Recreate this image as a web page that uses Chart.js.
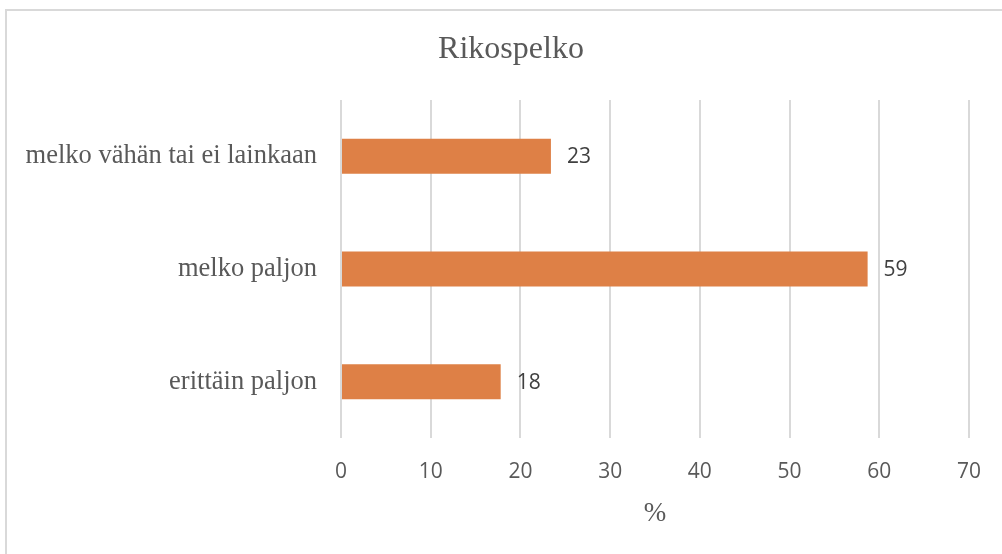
<!DOCTYPE html>
<html>
<head>
<meta charset="utf-8">
<script src="https://cdn.jsdelivr.net/npm/chart.js@4.4.1/dist/chart.umd.min.js"></script>
<style>
  html, body { margin: 0; padding: 0; background: #fff; overflow: hidden; }
  #wrap { position: relative; width: 1002px; height: 554px; }
  #frame { position: absolute; left: 5px; top: 9px; width: 1020px; height: 600px; border: 2px solid #d9d9d9; box-sizing: border-box; }
  canvas { position: absolute; left: 0; top: 0; }
</style>
</head>
<body>
<div id="wrap">
  <div id="frame"></div>
  <canvas id="c" width="1002" height="554"></canvas>
</div>
<script>
const chartTitle = 'Rikospelko';
const categories = ['melko vähän tai ei lainkaan', 'melko paljon', 'erittäin paljon'];
const values = [23.4, 58.7, 17.8];
const xTicks = [0, 10, 20, 30, 40, 50, 60, 70];
const xAxisTitle = '%';

const serif = '"Liberation Serif", "Times New Roman", serif';
const sans = '"Open Sans", "Liberation Sans", sans-serif';

const valueLabels = {
  id: 'valueLabels',
  afterDatasetsDraw(chart) {
    const ctx = chart.ctx;
    const meta = chart.getDatasetMeta(0);
    ctx.save();
    ctx.font = '21px ' + sans;
    ctx.fillStyle = '#404040';
    ctx.textAlign = 'left';
    ctx.textBaseline = 'middle';
    meta.data.forEach((bar, i) => {
      ctx.fillText(String(Math.round(values[i])), bar.x + 16, bar.y + 1);
    });
    ctx.restore();
  }
};

const chartTitleDraw = {
  id: 'chartTitleDraw',
  afterDraw(chart) {
    const ctx = chart.ctx;
    ctx.save();
    ctx.font = '32px ' + serif;
    ctx.fillStyle = '#595959';
    ctx.textAlign = 'center';
    ctx.textBaseline = 'middle';
    ctx.fillText(chartTitle, 511, 50);
    ctx.restore();
  }
};

new Chart(document.getElementById('c'), {
  type: 'bar',
  data: {
    labels: categories,
    datasets: [{
      data: values,
      backgroundColor: '#DE8046',
      borderWidth: 0,
      categoryPercentage: 1,
      barPercentage: 0.31
    }]
  },
  options: {
    indexAxis: 'y',
    responsive: false,
    animation: false,
    layout: { padding: { left: 0, right: 28, top: 100, bottom: 0 } },
    plugins: {
      legend: { display: false },
      tooltip: { enabled: false },
      title: { display: false }
    },
    scales: {
      x: {
        type: 'linear',
        min: xTicks[0],
        max: xTicks[xTicks.length - 1],
        afterBuildTicks(scale) { scale.ticks = xTicks.map(v => ({ value: v })); },
        afterFit(scale) { scale.height = 116; },
        grid: { color: '#d9d9d9', lineWidth: 2, drawTicks: false },
        border: { display: false },
        ticks: { color: '#595959', font: { family: sans, size: 21 }, padding: 21 },
        title: {
          display: true,
          text: xAxisTitle,
          color: '#595959',
          font: { family: serif, size: 27 },
          padding: { top: 0, bottom: 24 }
        }
      },
      y: {
        afterFit(scale) { scale.width = 341; },
        grid: { display: false, drawTicks: false },
        border: { display: false },
        ticks: { color: '#595959', font: { family: serif, size: 26.5 }, padding: 24 }
      }
    }
  },
  plugins: [valueLabels, chartTitleDraw]
});
</script>
</body>
</html>
